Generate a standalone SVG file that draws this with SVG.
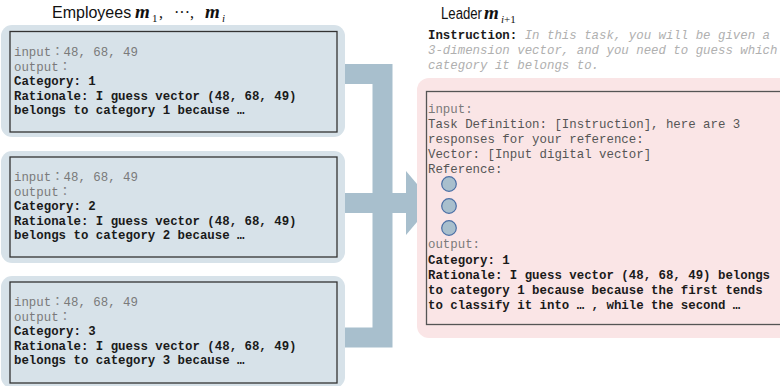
<svg xmlns="http://www.w3.org/2000/svg" width="780" height="386" viewBox="0 0 780 386">
<style>
.title{font-family:"Liberation Sans",Arial,sans-serif;font-size:16px;fill:#111}
.mi{font-family:"Liberation Serif","Times New Roman",serif;font-weight:bold;font-style:italic;font-size:19px;fill:#111}
.sub{font-family:"Liberation Serif","Times New Roman",serif;font-size:11px;fill:#111}
.mt{font-family:"Liberation Serif","Times New Roman",serif;font-size:16px;fill:#111}
.emp-bg{fill:#d7e2e9}
.emp-box{fill:#d7e2e9;stroke:#333;stroke-width:1.3}
.lead-bg{fill:#fae5e6}
.lead-box{fill:#fae5e6;stroke:#555;stroke-width:1.3}
.t{font-family:"Liberation Mono","Courier New","Noto Sans CJK JP",monospace;font-size:12.4px}
.cj{font-family:"Noto Sans CJK JP",sans-serif}
.g{fill:#7a7a7a}
.d{fill:#555}
.b{font-weight:bold;fill:#1a1a1a}
.it{font-style:italic;fill:#b0b0b0}
.bar{fill:none;stroke:#a8bfcd;stroke-width:20;stroke-linejoin:miter}
.ref{fill:#a8bfcd;stroke:#4a6fa5;stroke-width:1.2}
</style>
<defs>
<marker id="ah" markerUnits="userSpaceOnUse" markerWidth="28" markerHeight="64" refX="0" refY="32" orient="auto">
<polygon points="0,0 27,32 0,64" fill="#a8bfcd"/>
</marker>
</defs>

<g id="titles">
<text x="52" y="18"><tspan class="title">Employees</tspan><tspan class="mi" x="135" y="18">m</tspan><tspan class="sub" x="152" y="22">1</tspan><tspan class="mt" x="159" y="18">,</tspan><tspan class="mt" x="174" y="18">···,</tspan><tspan class="mi" x="205" y="18">m</tspan><tspan class="sub" x="222" y="22" font-style="italic">i</tspan></text>
<text x="441" y="19"><tspan class="title" textLength="41" lengthAdjust="spacingAndGlyphs">Leader</tspan><tspan class="mi" x="484" y="19">m</tspan><tspan class="sub" x="501" y="23"><tspan font-style="italic">i</tspan>+1</tspan></text>
</g>

<g id="connectors">
<path class="bar" d="M343,74 H382.5 V337.5 H343"/>
<path class="bar" d="M343,203 H406" marker-end="url(#ah)"/>
</g>

<g id="employee1">
<rect class="emp-bg" x="1" y="25" width="344" height="112" rx="11"/>
<rect class="emp-box" x="10" y="31.5" width="327" height="100.5"/>
<text class="t g" x="14" y="56">input<tspan class="cj">：</tspan>48, 68, 49</text>
<text class="t g" x="14" y="70.5">output<tspan class="cj">：</tspan></text>
<text class="t b" x="14" y="85">Category: 1</text>
<text class="t b" x="14" y="99.5">Rationale: I guess vector (48, 68, 49)</text>
<text class="t b" x="14" y="114">belongs to category 1 because …</text>
</g>

<g id="employee2">
<rect class="emp-bg" x="1" y="151" width="344" height="112" rx="11"/>
<rect class="emp-box" x="10" y="157" width="327" height="100"/>
<text class="t g" x="14" y="181">input<tspan class="cj">：</tspan>48, 68, 49</text>
<text class="t g" x="14" y="195.5">output<tspan class="cj">：</tspan></text>
<text class="t b" x="14" y="210">Category: 2</text>
<text class="t b" x="14" y="224.5">Rationale: I guess vector (48, 68, 49)</text>
<text class="t b" x="14" y="239">belongs to category 2 because …</text>
</g>

<g id="employee3">
<rect class="emp-bg" x="1" y="276" width="344" height="112" rx="11"/>
<rect class="emp-box" x="10" y="282" width="327" height="101"/>
<text class="t g" x="14" y="306">input<tspan class="cj">：</tspan>48, 68, 49</text>
<text class="t g" x="14" y="320.5">output<tspan class="cj">：</tspan></text>
<text class="t b" x="14" y="335">Category: 3</text>
<text class="t b" x="14" y="349.5">Rationale: I guess vector (48, 68, 49)</text>
<text class="t b" x="14" y="364">belongs to category 3 because …</text>
</g>

<g id="instruction">
<text class="t" x="428" y="39"><tspan class="b">Instruction:</tspan><tspan class="it"> In this task, you will be given a</tspan></text>
<text class="t it" x="428" y="54">3-dimension vector, and you need to guess which</text>
<text class="t it" x="428" y="69">category it belongs to.</text>
</g>

<g id="leader">
<rect class="lead-bg" x="417" y="78" width="380" height="260" rx="12"/>
<rect class="lead-box" x="426.5" y="91.5" width="370" height="233"/>
<text class="t g" x="428" y="113">input:</text>
<text class="t d" x="428" y="128">Task Definition: [Instruction], here are 3</text>
<text class="t d" x="428" y="143">responses for your reference:</text>
<text class="t d" x="428" y="158">Vector: [Input digital vector]</text>
<text class="t d" x="428" y="173">Reference:</text>
<circle class="ref" cx="449" cy="184" r="7.3"/>
<circle class="ref" cx="449" cy="206" r="7.3"/>
<circle class="ref" cx="449" cy="228" r="7.3"/>
<text class="t g" x="428" y="248">output:</text>
<text class="t b" x="428" y="264">Category: 1</text>
<text class="t b" x="428" y="279">Rationale: I guess vector (48, 68, 49) belongs</text>
<text class="t b" x="428" y="294">to category 1 because because the first tends</text>
<text class="t b" x="428" y="309">to classify it into … , while the second …</text>
</g>
</svg>
